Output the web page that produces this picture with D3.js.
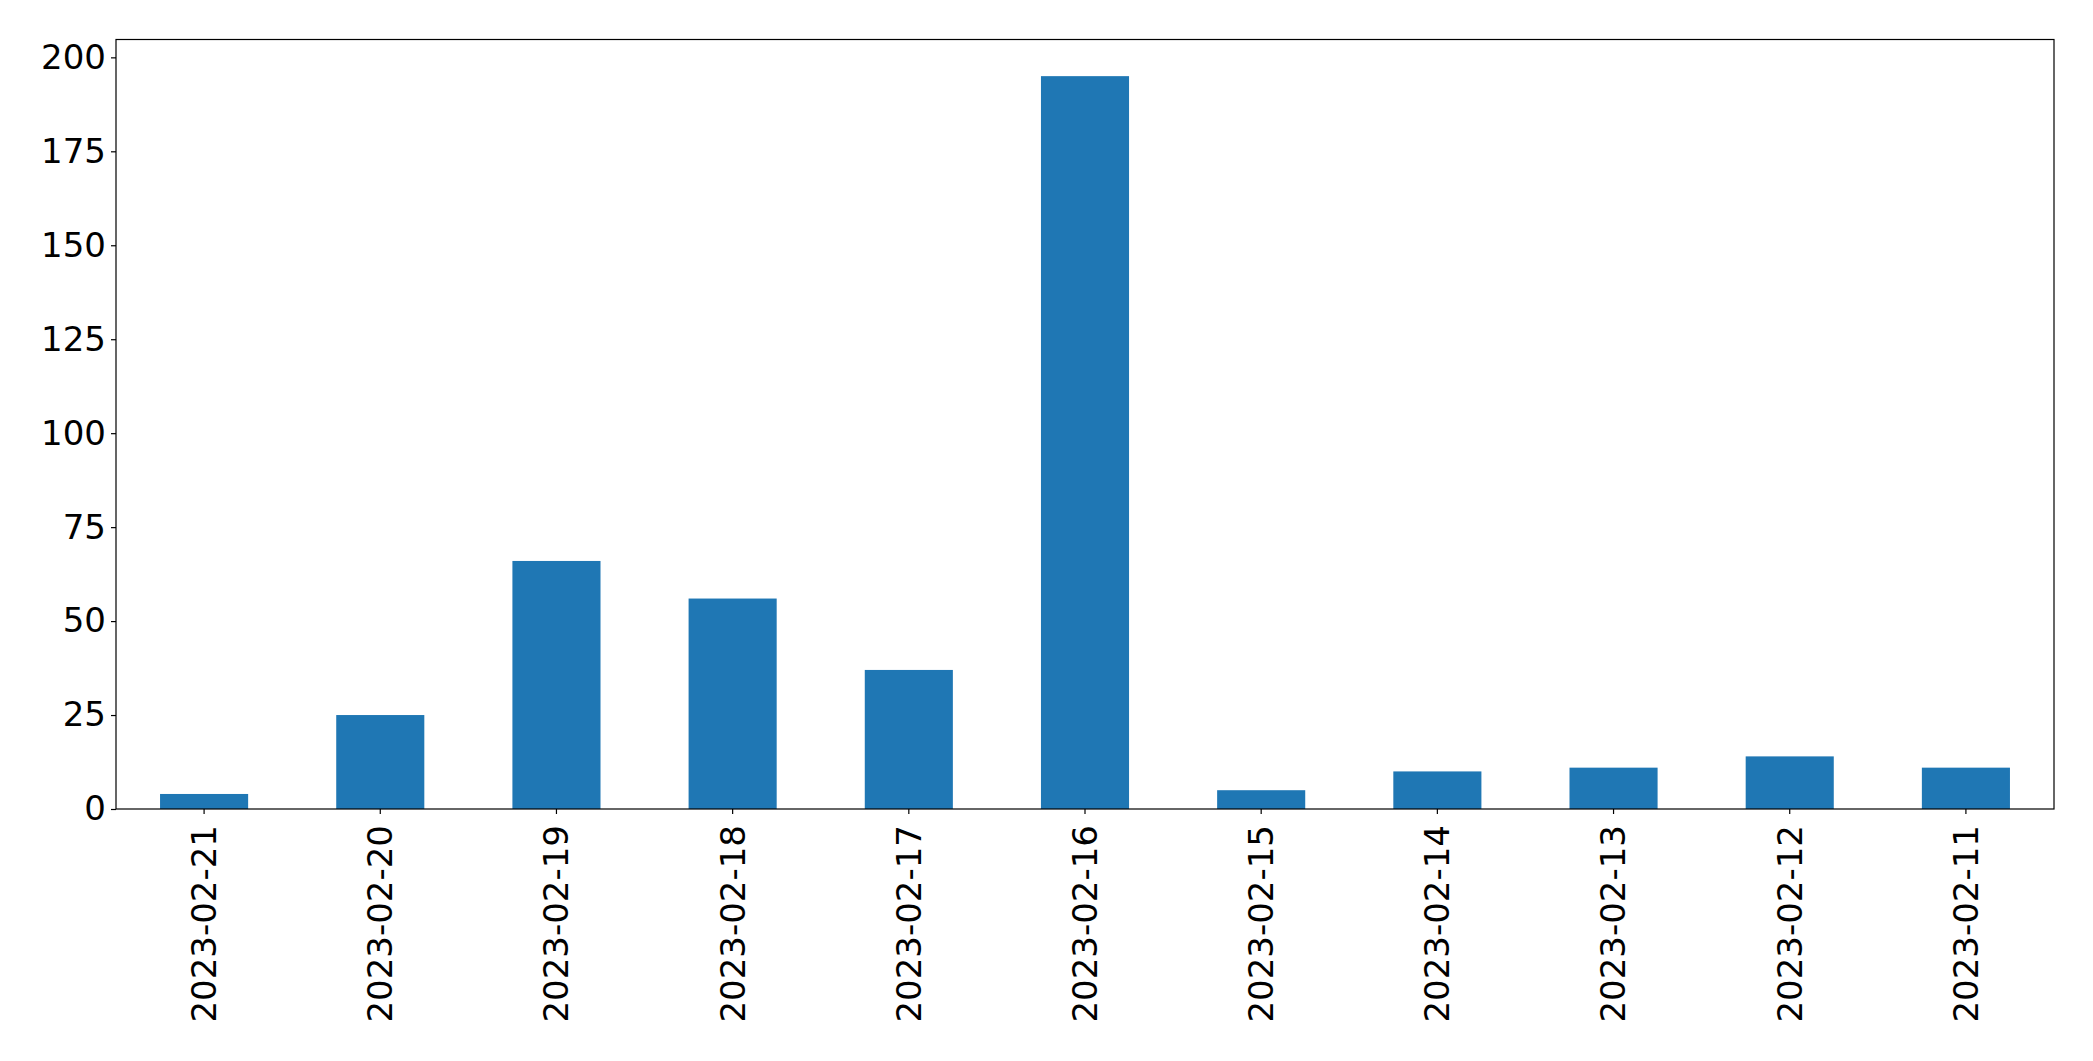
<!DOCTYPE html>
<html>
<head>
<meta charset="utf-8">
<script src="https://cdn.jsdelivr.net/npm/d3@7"></script>
<style>
  html, body { margin: 0; padding: 0; background: #fff; }
  svg { display: block; }
  text { font-family: "DejaVu Sans", sans-serif; }
</style>
</head>
<body>
<svg id="chart" width="2093" height="1061"></svg>
<script>
const categories = ["2023-02-21","2023-02-20","2023-02-19","2023-02-18","2023-02-17","2023-02-16","2023-02-15","2023-02-14","2023-02-13","2023-02-12","2023-02-11"];
const values = [4, 25, 66, 56, 37, 195, 5, 10, 11, 14, 11];
const yTicks = [0, 25, 50, 75, 100, 125, 150, 175, 200];

const margin = {left: 116, right: 2093 - 2054, top: 39.5, bottom: 1061 - 809};
const W = 2093, H = 1061;
const svg = d3.select("#chart");

const x = d3.scaleBand()
  .domain(categories)
  .range([margin.left, W - margin.right])
  .paddingInner(0.5)
  .paddingOuter(0.25);

const y = d3.scaleLinear()
  .domain([0, d3.max(values) * 1.05])
  .range([H - margin.bottom, margin.top]);

svg.append("g")
  .selectAll("rect")
  .data(values)
  .join("rect")
  .attr("x", (d, i) => x(categories[i]))
  .attr("width", x.bandwidth())
  .attr("y", d => y(d))
  .attr("height", d => y(0) - y(d))
  .attr("fill", "#1f77b4");

const fontSize = 34;

const yAxis = svg.append("g")
  .attr("transform", `translate(${margin.left},0)`)
  .call(d3.axisLeft(y).tickValues(yTicks).tickSize(5).tickPadding(5).tickFormat(d3.format("d")));
yAxis.select(".domain").remove();
yAxis.selectAll("line").attr("stroke", "#000").attr("stroke-width", 1.2);
yAxis.selectAll("text").attr("fill", "#000").style("font-size", fontSize + "px").style("font-family", "DejaVu Sans");

const xAxis = svg.append("g")
  .attr("transform", `translate(0,${H - margin.bottom})`)
  .call(d3.axisBottom(x).tickSize(5));
xAxis.select(".domain").remove();
xAxis.selectAll("line").attr("stroke", "#000").attr("stroke-width", 1.2);
xAxis.selectAll("text")
  .attr("fill", "#000")
  .style("font-size", fontSize + "px")
  .style("font-family", "DejaVu Sans")
  .attr("transform", "rotate(-90)")
  .attr("x", -16)
  .attr("y", 0)
  .attr("dy", "0.35em")
  .style("text-anchor", "end");

svg.append("rect")
  .attr("x", margin.left)
  .attr("y", margin.top)
  .attr("width", W - margin.right - margin.left)
  .attr("height", H - margin.bottom - margin.top)
  .attr("fill", "none")
  .attr("stroke", "#000")
  .attr("stroke-width", 1.2);
</script>
</body>
</html>
